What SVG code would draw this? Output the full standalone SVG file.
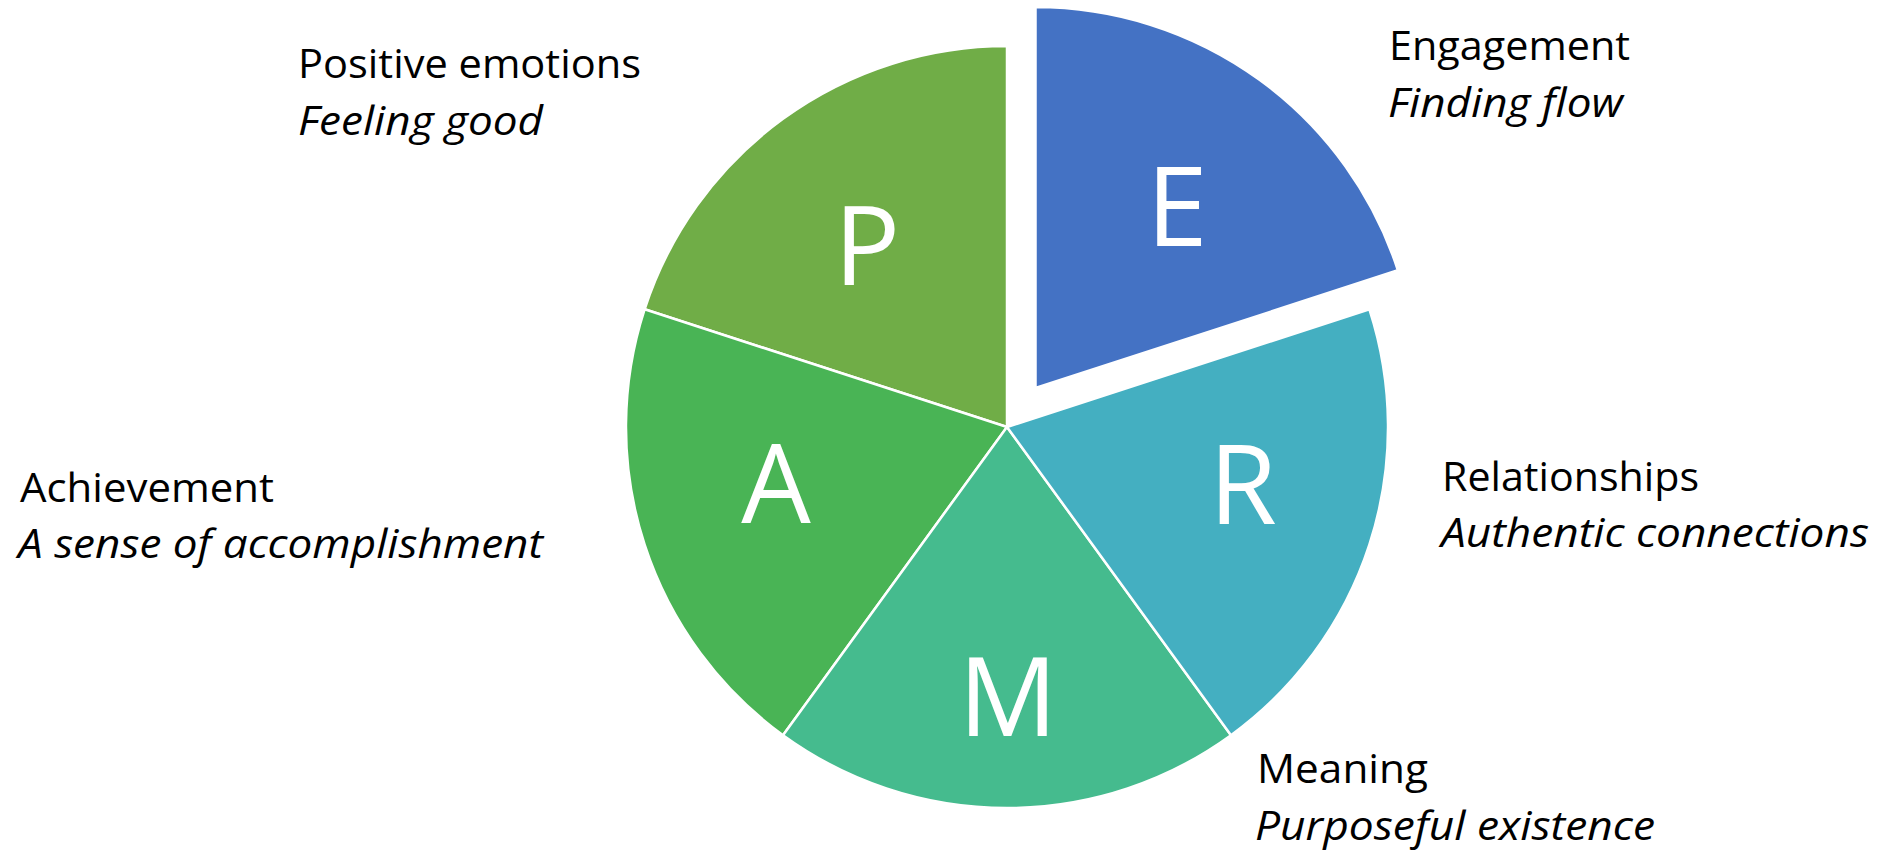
<svg xmlns="http://www.w3.org/2000/svg" width="1883" height="852" viewBox="0 0 1883 852">
  <style>
    .slice { stroke: #FFFFFF; stroke-width: 2.5; stroke-linejoin: round; }
    .letter { font-family: "Open Sans", "Noto Sans", sans-serif; font-size: 110px; fill: #FFFFFF; text-anchor: middle; }
    .title { font-family: "Open Sans", "Noto Sans", sans-serif; font-size: 41px; fill: #000000; }
    .sub { font-family: "Open Sans", "Noto Sans", sans-serif; font-size: 41px; font-style: italic; fill: #000000; }
  </style>
  <rect width="1883" height="852" fill="#FFFFFF"/>

  <g id="slice-P">
    <path class="slice" fill="#70AD47" d="M1007 427 L644.6 309.3 A381 381 0 0 1 1007 46 Z"/>
    <text class="letter" x="867" y="285">P</text>
  </g>
  <g id="slice-A">
    <path class="slice" fill="#49B455" d="M1007 427 L783 735.2 A381 381 0 0 1 644.6 309.3 Z"/>
    <text class="letter" x="776" y="523">A</text>
  </g>
  <g id="slice-M">
    <path class="slice" fill="#45BB8E" d="M1007 427 L1231 735.2 A381 381 0 0 1 783 735.2 Z"/>
    <text class="letter" x="1008" y="736">M</text>
  </g>
  <g id="slice-R">
    <path class="slice" fill="#44AFC1" d="M1007 427 L1369.4 309.3 A381 381 0 0 1 1231 735.2 Z"/>
    <text class="letter" x="1243" y="524">R</text>
  </g>
  <g id="slice-E">
    <path class="slice" fill="#4472C4" d="M1035.5 388 L1035.5 7 A381 381 0 0 1 1397.9 270.3 Z"/>
    <text class="letter" x="1177" y="246">E</text>
  </g>

  <g id="label-P">
    <text class="title" x="298" y="78" textLength="343" lengthAdjust="spacingAndGlyphs">Positive emotions</text>
    <text class="sub" x="298" y="135" textLength="245" lengthAdjust="spacingAndGlyphs">Feeling good</text>
  </g>
  <g id="label-E">
    <text class="title" x="1389" y="60" textLength="241" lengthAdjust="spacingAndGlyphs">Engagement</text>
    <text class="sub" x="1388" y="117" textLength="235" lengthAdjust="spacingAndGlyphs">Finding flow</text>
  </g>
  <g id="label-R">
    <text class="title" x="1442" y="491" textLength="257" lengthAdjust="spacingAndGlyphs">Relationships</text>
    <text class="sub" x="1441" y="547" textLength="428" lengthAdjust="spacingAndGlyphs">Authentic connections</text>
  </g>
  <g id="label-M">
    <text class="title" x="1257" y="783" textLength="171" lengthAdjust="spacingAndGlyphs">Meaning</text>
    <text class="sub" x="1255" y="840" textLength="400" lengthAdjust="spacingAndGlyphs">Purposeful existence</text>
  </g>
  <g id="label-A">
    <text class="title" x="20" y="502" textLength="254" lengthAdjust="spacingAndGlyphs">Achievement</text>
    <text class="sub" x="18" y="558" textLength="525" lengthAdjust="spacingAndGlyphs">A sense of accomplishment</text>
  </g>

  <g id="connectors"/>
</svg>
